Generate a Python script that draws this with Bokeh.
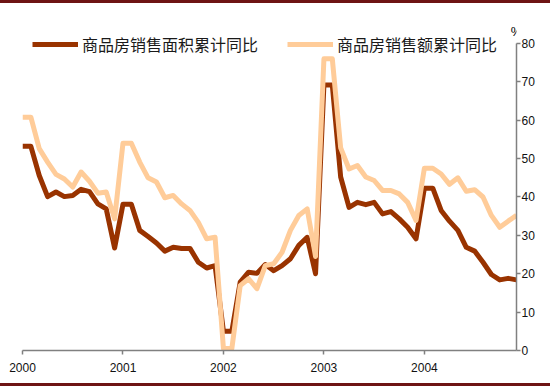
import pandas as pd
from bokeh.plotting import figure
from bokeh.models import (Legend, LegendItem, Label, FixedTicker,
                          Range1d, ColumnDataSource)
from bokeh.embed import file_html
from bokeh.resources import INLINE

# ---- data (monthly cumulative YoY, %) ----
months = pd.period_range("2000-01", "2004-12", freq="M")
area_yoy = [53.2, 53.2, 45.6, 40.1, 41.3, 40.1, 40.4, 42.0, 41.4, 38.2, 36.9, 26.7,
            38.1, 38.1, 31.3, 29.7, 28.0, 25.9, 26.9, 26.6, 26.6, 23.0, 21.5, 22.1,
            5.0, 5.0, 17.8, 20.4, 20.1, 22.4, 20.8, 22.1, 23.9, 27.4, 29.5, 20.0,
            69.2, 69.2, 45.2, 37.3, 38.6, 38.0, 38.6, 35.6, 36.2, 34.3, 32.1, 29.1,
            42.3, 42.3, 36.5, 33.7, 31.3, 26.9, 25.9, 23.0, 19.8, 18.4, 18.8, 18.4]
amount_yoy = [60.8, 60.8, 52.6, 49.1, 45.9, 44.7, 42.6, 46.5, 44.1, 41.0, 41.3, 34.3,
              54.0, 54.0, 49.1, 45.0, 43.9, 39.8, 40.4, 38.2, 36.5, 33.4, 29.1, 29.5,
              0.5, 0.5, 16.9, 18.7, 16.1, 22.1, 22.6, 25.6, 31.3, 35.2, 36.9, 24.5,
              76.0, 76.0, 52.8, 47.3, 48.2, 45.2, 44.3, 41.7, 41.7, 40.8, 38.6, 33.9,
              47.5, 47.5, 46.0, 43.3, 45.0, 41.5, 41.9, 40.0, 35.2, 32.1, 33.7, 35.2]
series_names = ["商品房销售面积累计同比", "商品房销售额累计同比"]
year_ticks = [2000, 2001, 2002, 2003, 2004]
y_ticks = [0, 10, 20, 30, 40, 50, 60, 70, 80]

xs = [m.year + (m.month - 1) / 12 for m in months]
src = ColumnDataSource(dict(x=xs, area=area_yoy, amount=amount_yoy))

p = figure(width=550, height=386, output_backend="svg", toolbar_location=None,
           x_range=Range1d(xs[0], xs[-1]), y_range=Range1d(0, 90.42),
           y_axis_location="right",
           min_border_left=22, min_border_right=34, min_border_top=0, min_border_bottom=39,
           styles={"border-top": "3px solid #6e1414", "border-bottom": "3px solid #6e1414"})
p.grid.visible = False
p.outline_line_color = None
p.background_fill_color = "white"
p.border_fill_color = "white"

r1 = p.line("x", "area", source=src, line_color="#993300", line_width=5, line_join="round")
r2 = p.line("x", "amount", source=src, line_color="#FFCC99", line_width=5, line_join="round")

axis_col = "#808080"
for ax in (p.xaxis[0], p.yaxis[0]):
    ax.axis_line_color = axis_col
    ax.axis_line_width = 1.5
    ax.major_tick_line_color = axis_col
    ax.major_tick_line_width = 1.5
    ax.major_tick_in = 0
    ax.major_tick_out = 4
    ax.minor_tick_line_color = None
    ax.major_label_text_font = "Liberation Sans"
    ax.major_label_text_font_size = "12px"
    ax.major_label_text_color = "#111111"
p.xaxis.ticker = FixedTicker(ticks=year_ticks)
p.yaxis.ticker = FixedTicker(ticks=y_ticks)
p.yaxis.bounds = (0, 80)
p.xaxis.major_label_standoff = 8
p.yaxis.major_label_standoff = 1

def mk_legend(item_label, rend, xloc):
    lg = Legend(items=[LegendItem(label=item_label, renderers=[rend])],
                location=(xloc, 294), orientation="horizontal",
                glyph_width=46, glyph_height=20, label_height=20,
                label_standoff=4, padding=0, margin=0, spacing=0,
                border_line_alpha=0, background_fill_alpha=0,
                label_text_font="Noto Sans CJK SC", label_text_font_size="16px",
                label_text_color="#1a1a1a")
    p.add_layout(lg)

mk_legend(series_names[0], r1, 10)
mk_legend(series_names[1], r2, 265)

p.add_layout(Label(x=494, y=319, x_units="screen", y_units="screen", text="%",
                   text_align="center", text_baseline="middle",
                   text_font="Liberation Sans", text_font_size="13px", text_color="#000000"))

open("out.html", "w").write(file_html(p, INLINE))
